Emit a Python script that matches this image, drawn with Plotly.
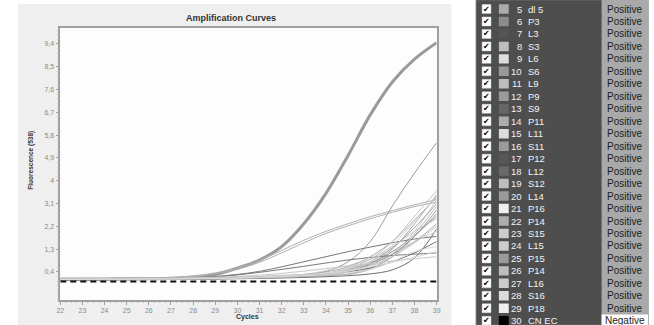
import plotly.graph_objects as go

# ---------------- data ----------------
cycles = [22, 23, 24, 25, 26, 27, 28, 29, 30, 31, 32, 33, 34, 35, 36, 37, 38, 39]

sample_ids = [5, 6, 7, 8, 9, 10, 11, 12, 13, 14, 15, 16, 17, 18, 19, 20,
              21, 22, 23, 24, 25, 26, 27, 28, 29, 30]
sample_names = ["dl 5", "P3", "L3", "S3", "L6", "S6", "L9", "P9", "S9", "P11",
                "L11", "S11", "P12", "L12", "S12", "L14", "P16", "P14", "S15",
                "L15", "P15", "P14", "L16", "S16", "P18", "CN EC"]
status = ["Positive", "Positive", "Positive", "Positive", "Positive", "Positive",
          "Positive", "Positive", "Positive", "Positive", "Positive", "Positive",
          "Positive", "Positive", "Positive", "Positive", "Positive", "Positive",
          "Positive", "Positive", "Positive", "Positive", "Positive", "Positive",
          "Positive", "Negative"]

f05 = [0.10, 0.10, 0.11, 0.11, 0.12, 0.12, 0.13, 0.14, 0.15, 0.17, 0.19, 0.21, 0.25, 0.40, 0.70, 1.30, 2.30, 3.45]
f06 = [0.12, 0.12, 0.12, 0.13, 0.13, 0.15, 0.20, 0.30, 0.55, 0.87, 1.40, 2.30, 3.50, 5.00, 6.60, 7.90, 8.80, 9.45]
f07 = [0.08, 0.08, 0.09, 0.09, 0.10, 0.10, 0.11, 0.12, 0.13, 0.14, 0.16, 0.18, 0.21, 0.25, 0.32, 0.48, 0.95, 2.10]
f08 = [0.12, 0.12, 0.13, 0.13, 0.14, 0.17, 0.24, 0.36, 0.55, 0.85, 1.25, 1.65, 2.00, 2.30, 2.58, 2.82, 3.05, 3.25]
f09 = [0.10, 0.10, 0.10, 0.11, 0.11, 0.12, 0.13, 0.14, 0.16, 0.18, 0.20, 0.23, 0.27, 0.33, 0.60, 1.10, 2.00, 3.25]
f10 = [0.11, 0.11, 0.11, 0.12, 0.12, 0.13, 0.14, 0.15, 0.17, 0.19, 0.22, 0.28, 0.42, 0.80, 1.60, 3.00, 4.30, 5.50]
f11 = [0.11, 0.11, 0.12, 0.12, 0.13, 0.16, 0.22, 0.33, 0.50, 0.78, 1.15, 1.55, 1.92, 2.22, 2.50, 2.75, 2.98, 3.15]
f12 = [0.09, 0.09, 0.10, 0.10, 0.11, 0.11, 0.12, 0.13, 0.14, 0.16, 0.18, 0.21, 0.25, 0.30, 0.55, 1.00, 1.80, 2.85]
f13 = [0.12, 0.12, 0.12, 0.13, 0.13, 0.14, 0.16, 0.22, 0.30, 0.42, 0.60, 0.80, 1.00, 1.20, 1.38, 1.55, 1.70, 1.80]
f14 = [0.10, 0.10, 0.11, 0.11, 0.12, 0.12, 0.13, 0.15, 0.17, 0.19, 0.22, 0.26, 0.30, 0.50, 0.75, 1.10, 1.60, 2.30]
f15 = [0.11, 0.11, 0.12, 0.12, 0.13, 0.14, 0.15, 0.17, 0.19, 0.22, 0.26, 0.30, 0.45, 0.65, 0.90, 1.20, 1.60, 2.00]
f16 = [0.09, 0.09, 0.10, 0.10, 0.11, 0.11, 0.12, 0.13, 0.14, 0.16, 0.19, 0.23, 0.30, 0.45, 0.75, 1.20, 1.85, 2.60]
f17 = [0.08, 0.08, 0.09, 0.09, 0.10, 0.11, 0.12, 0.13, 0.15, 0.17, 0.20, 0.24, 0.30, 0.40, 0.55, 0.80, 1.15, 1.60]
f18 = [0.11, 0.11, 0.12, 0.12, 0.13, 0.14, 0.16, 0.20, 0.28, 0.38, 0.50, 0.62, 0.75, 0.87, 0.97, 1.05, 1.10, 1.15]
f19 = [0.10, 0.10, 0.10, 0.11, 0.11, 0.12, 0.12, 0.13, 0.15, 0.17, 0.19, 0.22, 0.26, 0.30, 0.50, 1.00, 1.90, 3.00]
f20 = [0.10, 0.10, 0.11, 0.11, 0.12, 0.12, 0.13, 0.14, 0.16, 0.18, 0.21, 0.25, 0.32, 0.48, 0.80, 1.35, 2.15, 3.10]
f21 = [0.12, 0.12, 0.12, 0.13, 0.13, 0.14, 0.15, 0.16, 0.18, 0.20, 0.23, 0.26, 0.30, 0.38, 0.50, 0.80, 1.20, 1.40]
f22 = [0.11, 0.11, 0.11, 0.12, 0.12, 0.13, 0.14, 0.15, 0.17, 0.20, 0.24, 0.30, 0.40, 0.60, 1.00, 1.60, 2.45, 3.35]
f23 = [0.10, 0.10, 0.11, 0.11, 0.12, 0.13, 0.14, 0.15, 0.17, 0.19, 0.22, 0.26, 0.32, 0.50, 0.90, 1.60, 2.60, 3.60]
f24 = [0.12, 0.12, 0.12, 0.13, 0.13, 0.14, 0.15, 0.17, 0.19, 0.22, 0.26, 0.30, 0.35, 0.55, 0.90, 1.40, 2.00, 2.50]
f25 = [0.09, 0.09, 0.10, 0.10, 0.11, 0.12, 0.13, 0.14, 0.16, 0.18, 0.21, 0.25, 0.32, 0.45, 0.70, 1.10, 1.80, 2.70]
f26 = [0.10, 0.10, 0.10, 0.11, 0.11, 0.12, 0.13, 0.14, 0.16, 0.18, 0.20, 0.24, 0.30, 0.42, 0.65, 1.00, 1.55, 2.20]
f27 = [0.12, 0.12, 0.13, 0.13, 0.14, 0.15, 0.17, 0.19, 0.22, 0.27, 0.34, 0.43, 0.53, 0.63, 0.73, 0.83, 0.92, 1.00]
f28 = [0.11, 0.11, 0.11, 0.12, 0.12, 0.13, 0.14, 0.15, 0.16, 0.18, 0.21, 0.25, 0.30, 0.45, 0.80, 1.45, 2.40, 3.40]
f29 = [0.10, 0.10, 0.11, 0.11, 0.12, 0.12, 0.13, 0.14, 0.16, 0.19, 0.23, 0.28, 0.35, 0.45, 0.60, 0.78, 0.98, 1.20]
f30 = [0.02, 0.02, 0.02, 0.02, 0.02, 0.02, 0.02, 0.02, 0.02, 0.02, 0.02, 0.02, 0.02, 0.02, 0.02, 0.02, 0.02, 0.02]

fluorescence = [f05, f06, f07, f08, f09, f10, f11, f12, f13, f14, f15, f16, f17,
                f18, f19, f20, f21, f22, f23, f24, f25, f26, f27, f28, f29, f30]

ytick_vals = [0.4, 1.3, 2.2, 3.1, 4.0, 4.9, 5.8, 6.7, 7.6, 8.5, 9.4]
ytick_text = ["0,4", "1,3", "2,2", "3,1", "4", "4,9", "5,8", "6,7", "7,6", "8,5", "9,4"]

# ---------------- styles ----------------
swatch_colors = ["#ababab", "#8c8c8c", "#555555", "#bdbdbd", "#dcdcdc", "#9a9a9a",
                 "#bdbdbd", "#9a9a9a", "#666666", "#acacac", "#dcdcdc", "#9a9a9a",
                 "#575757", "#6a6a6a", "#bdbdbd", "#9a9a9a", "#efefef", "#acacac",
                 "#cccccc", "#cccccc", "#9a9a9a", "#bdbdbd", "#cccccc", "#dcdcdc",
                 "#efefef", "#000000"]
line_colors = ["#ababab", "#9a9a9a", "#6e6e6e", "#b0b0b0", "#cfcfcf", "#9a9a9a",
               "#b0b0b0", "#a0a0a0", "#777777", "#acacac", "#cfcfcf", "#a0a0a0",
               "#727272", "#7a7a7a", "#bdbdbd", "#a0a0a0", "#d8d8d8", "#acacac",
               "#c4c4c4", "#c4c4c4", "#a0a0a0", "#bdbdbd", "#c8c8c8", "#d0d0d0",
               "#d8d8d8", "#111111"]

W, H = 654, 325
FONT = "Liberation Sans, Arial, sans-serif"

fig = go.Figure()

# curves
for i, vals in enumerate(fluorescence):
    sid = sample_ids[i]
    if status[i] == "Negative":
        line = dict(color=line_colors[i], width=2, dash="6px,4px")
    elif sid == 6:
        line = dict(color=line_colors[i], width=3, shape="spline")
    else:
        line = dict(color=line_colors[i], width=1, shape="spline")
    fig.add_trace(go.Scatter(x=cycles, y=vals, mode="lines", line=line,
                             showlegend=False, hoverinfo="skip",
                             xaxis="x", yaxis="y"))

# plot area in pixels
PL, PR, PT, PB = 57, 438, 28, 300

shapes = []
# left grey panel
shapes.append(dict(type="rect", xref="paper", yref="paper",
                   x0=14 / W, x1=453 / W, y0=0, y1=1 - 4 / H,
                   fillcolor="#efefef", line=dict(width=0), layer="below"))
# plot background
shapes.append(dict(type="rect", xref="x domain", yref="y domain",
                   x0=0, x1=1, y0=0, y1=1,
                   fillcolor="#fdfdfd", line=dict(width=0), layer="below"))

# ---------- right table (x2 in pixel units, y2 in row index) ----------
row_top = -0.722
row_bot = 25.34
shapes.append(dict(type="rect", xref="x2", yref="y2", x0=478, x1=652,
                   y0=row_top, y1=row_bot, fillcolor="#4e4e4e",
                   line=dict(color="#6a6a6a", width=1), layer="below"))
shapes.append(dict(type="rect", xref="x2", yref="y2", x0=605, x1=652,
                   y0=row_top, y1=row_bot, fillcolor="#a9a9a9",
                   line=dict(width=0), layer="below"))

annotations = []
for i, sid in enumerate(sample_ids):
    # checkbox
    shapes.append(dict(type="rect", xref="x2", yref="y2", x0=484, x1=493,
                       y0=i - 0.36, y1=i + 0.36, fillcolor="#ffffff",
                       line=dict(color="#d0d0d0", width=0.5)))
    annotations.append(dict(xref="x2", yref="y2", x=488.5, y=i, text="✔",
                            showarrow=False, font=dict(size=8, color="#000000",
                            family="DejaVu Sans"), xanchor="center", yanchor="middle"))
    # colour swatch
    shapes.append(dict(type="rect", xref="x2", yref="y2", x0=501, x1=511,
                       y0=i - 0.38, y1=i + 0.38, fillcolor=swatch_colors[i],
                       line=dict(width=0)))
    # number & name
    annotations.append(dict(xref="x2", yref="y2", x=526, y=i, text=str(sid),
                            showarrow=False, xanchor="right", yanchor="middle",
                            font=dict(size=9.5, color="#f2f2f2", family=FONT)))
    annotations.append(dict(xref="x2", yref="y2", x=528, y=i, text=sample_names[i],
                            showarrow=False, xanchor="left", yanchor="middle",
                            font=dict(size=9.5, color="#f2f2f2", family=FONT)))
    # status
    if status[i] == "Negative":
        shapes.append(dict(type="rect", xref="x2", yref="y2", x0=605, x1=652,
                           y0=i - 0.5, y1=row_bot, fillcolor="#ffffff",
                           line=dict(width=0)))
    annotations.append(dict(xref="x2", yref="y2", x=628.5, y=i, text=status[i],
                            showarrow=False, xanchor="center", yanchor="middle",
                            font=dict(size=10, color="#1c1c1c", family=FONT)))

# titles
annotations.append(dict(xref="paper", yref="paper", x=230 / W, y=1 - 18 / H,
                        text="<b>Amplification Curves</b>", showarrow=False,
                        xanchor="center", yanchor="middle",
                        font=dict(size=9, color="#333333", family=FONT)))
annotations.append(dict(xref="paper", yref="paper", x=247 / W, y=1 - 317 / H,
                        text="<b>Cycles</b>", showarrow=False,
                        xanchor="center", yanchor="middle",
                        font=dict(size=7, color="#333333", family=FONT)))
annotations.append(dict(xref="paper", yref="paper", x=27 / W, y=1 - 160 / H,
                        text="<b>Fluorescence (538)</b>", showarrow=False,
                        textangle=-90, xanchor="center", yanchor="middle",
                        font=dict(size=6.5, color="#333333", family=FONT)))

fig.update_layout(
    width=W, height=H,
    margin=dict(l=0, r=0, t=0, b=0),
    paper_bgcolor="#ffffff",
    plot_bgcolor="rgba(0,0,0,0)",
    showlegend=False,
    shapes=shapes,
    annotations=annotations,
    xaxis=dict(domain=[PL / W, PR / W], range=[22, 39], tickmode="array",
               tickvals=cycles, ticktext=[str(c) for c in cycles],
               showgrid=False, zeroline=False, showline=True, mirror=True,
               linecolor="#a0a0a0", linewidth=1.5, ticks="outside", ticklen=3,
               tickcolor="#a0a0a0",
               tickfont=dict(size=7, color="#8a8a8a", family=FONT),
               minor=dict(ticks="outside", ticklen=1.5, dtick=0.25, tick0=22,
                          tickcolor="#c0c0c0")),
    yaxis=dict(domain=[1 - PB / H, 1 - PT / H], range=[-0.71, 10.03],
               tickmode="array", tickvals=ytick_vals, ticktext=ytick_text,
               showgrid=False, zeroline=False, showline=True, mirror=True,
               linecolor="#a0a0a0", linewidth=1.5, ticks="outside", ticklen=3,
               tickcolor="#a0a0a0",
               tickfont=dict(size=7, color="#8a8a8a", family=FONT),
               minor=dict(ticks="outside", ticklen=1.5, dtick=0.18, tick0=0.4,
                          tickcolor="#c0c0c0")),
    xaxis2=dict(domain=[470 / W, 1], range=[470, 654], visible=False,
                fixedrange=True, anchor="y2"),
    yaxis2=dict(domain=[0, 1], range=[row_bot, row_top], visible=False,
                fixedrange=True, anchor="x2"),
)

fig.write_html("out.html", config={"displayModeBar": False},
               post_script="document.body.style.margin='0';"
                           "document.body.style.overflow='hidden';")
